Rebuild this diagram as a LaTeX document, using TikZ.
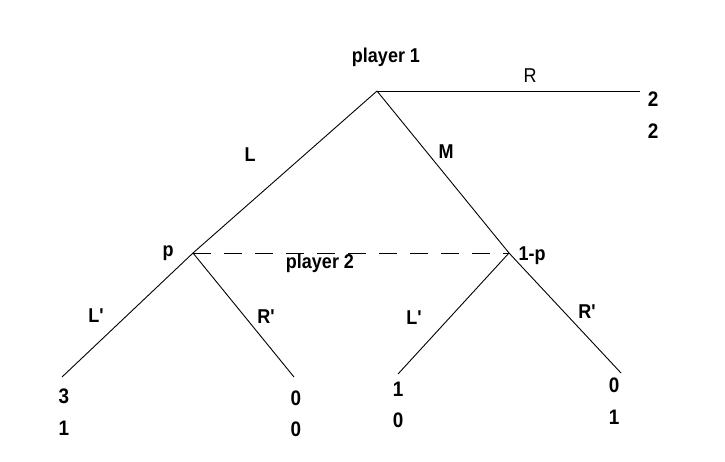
\documentclass[tikz,border=0pt]{standalone}
\usepackage{fontspec}
\setmainfont{Liberation Sans}[Ligatures=TeXOff,FakeStretch=0.9]
\begin{document}
\begin{tikzpicture}[x=1pt,y=-1pt,
  branch/.style={line width=0.9pt},
  infoset/.style={line width=0.9pt,dash pattern=on 18pt off 13pt},
  lbl/.style={font=\fontsize{20}{22}\selectfont, inner sep=0pt},
  blbl/.style={font=\fontsize{20}{22}\selectfont\bfseries, inner sep=0pt},
  pay/.style={font=\fontsize{21}{23}\selectfont\bfseries, inner sep=0pt}]
\useasboundingbox (0,0) rectangle (725,461);
% decision nodes and leaves
\coordinate (root) at (377,91);
\coordinate (n1) at (193,253);
\coordinate (n2) at (509,253);
\coordinate (tR) at (640,91);
\coordinate (t1) at (62,377);
\coordinate (t2) at (294,377);
\coordinate (t3) at (398,374);
\coordinate (t4) at (621,373);
% branches
\draw[branch] (root) -- (tR);
\draw[branch] (root) -- (n1);
\draw[branch] (root) -- (n2);
\draw[branch] (n1) -- (t1);
\draw[branch] (n1) -- (t2);
\draw[branch] (n2) -- (t3);
\draw[branch] (n2) -- (t4);
\draw[infoset] (n1) -- (n2);
% player and move labels
\node[blbl] (p1) at (386,57) {player 1};
\node[blbl] (p2) at (320,263) {player 2};
\node[lbl] (mR) at (530,76) {R};
\node[blbl] (mL) at (250,155) {L};
\node[blbl] (mM) at (446,152) {M};
\node[blbl] (mL1) at (96,316) {L'};
\node[blbl] (mR1) at (266,317) {R'};
\node[blbl] (mL2) at (414,318) {L'};
\node[blbl] (mR2) at (587,312) {R'};
\node[blbl] (bp) at (168,253) {p};
\node[blbl] (bq) at (532,256) {1-p};
% payoffs
\node[pay] (uR1) at (653,99) {2};
\node[pay] (uR2) at (653,131) {2};
\node[pay] (u11) at (64,396) {3};
\node[pay] (u12) at (64,428) {1};
\node[pay] (u21) at (296,398) {0};
\node[pay] (u22) at (296,429) {0};
\node[pay] (u31) at (398,389) {1};
\node[pay] (u32) at (398,420) {0};
\node[pay] (u41) at (614,385) {0};
\node[pay] (u42) at (614,417) {1};
\end{tikzpicture}
\end{document}
